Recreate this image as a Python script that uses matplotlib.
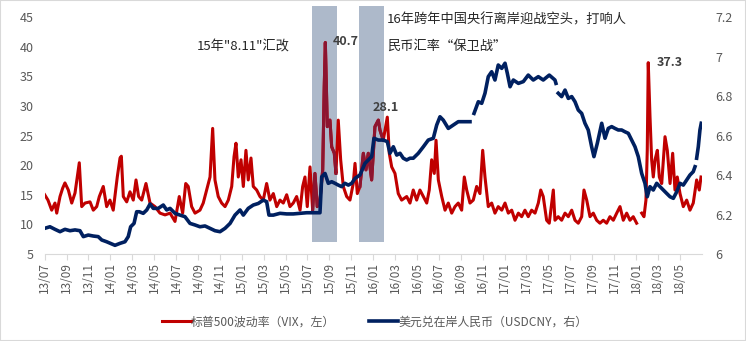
import matplotlib
matplotlib.use("Agg")
import matplotlib.pyplot as plt
from matplotlib.patches import Rectangle
import numpy as np

plt.rcParams['font.family'] = ['Noto Sans CJK SC', 'DejaVu Sans']

# x axis: months since 2013-07
tick_months = list(range(0, 60, 2))
tick_labels = ['13/07', '13/09', '13/11', '14/01', '14/03', '14/05', '14/07', '14/09',
               '14/11', '15/01', '15/03', '15/05', '15/07', '15/09', '15/11', '16/01',
               '16/03', '16/05', '16/07', '16/09', '16/11', '17/01', '17/03', '17/05',
               '17/07', '17/09', '17/11', '18/01', '18/03', '18/05']

# shaded periods (month offsets)
band_start = [24.41, 28.70]
band_end = [26.67, 31.00]

# S&P 500 VIX (left axis)
vix_month = [0.00, 0.30, 0.64, 0.94, 1.10, 1.40, 1.64, 1.85, 2.16, 2.47,
             2.77, 2.98, 3.16, 3.38, 3.68, 4.14, 4.44, 4.75, 4.99, 5.35,
             5.66, 5.96, 6.26, 6.63, 6.88, 7.00, 7.18, 7.49, 7.79, 8.09,
             8.34, 8.58, 8.86, 9.25, 9.62, 10.07, 10.53, 10.99, 11.45, 11.90,
             12.29, 12.60, 12.88, 13.11, 13.42, 13.73, 14.18, 14.48, 14.79, 15.10,
             15.34, 15.55, 15.85, 16.16, 16.47, 16.77, 17.08, 17.29, 17.47, 17.68,
             17.93, 18.14, 18.38, 18.59, 18.84, 19.05, 19.36, 19.66, 19.96, 20.27,
             20.57, 20.88, 21.19, 21.49, 21.79, 22.10, 22.40, 22.70, 23.01, 23.32,
             23.56, 23.77, 23.98, 24.23, 24.47, 24.68, 24.89, 25.14, 25.39, 25.53,
             25.63, 25.81, 26.05, 26.21, 26.45, 26.60, 26.81, 27.03, 27.27, 27.58,
             27.88, 28.18, 28.34, 28.55, 28.79, 29.10, 29.34, 29.55, 29.86, 30.16,
             30.47, 30.62, 30.92, 31.29, 31.47, 31.69, 31.99, 32.29, 32.60, 33.06,
             33.36, 33.66, 33.97, 34.27, 34.58, 34.89, 35.12, 35.34, 35.58, 35.74,
             35.95, 36.26, 36.56, 36.86, 37.17, 37.47, 37.77, 38.08, 38.32, 38.54,
             38.84, 39.14, 39.45, 39.75, 40.00, 40.21, 40.51, 40.82, 41.12, 41.42,
             41.74, 42.04, 42.34, 42.65, 42.95, 43.26, 43.56, 43.86, 44.16, 44.47,
             44.78, 45.08, 45.30, 45.53, 45.84, 46.08, 46.45, 46.60, 46.90, 47.21,
             47.52, 47.82, 48.13, 48.43, 48.73, 49.04, 49.25, 49.50, 49.80, 50.10,
             50.41, 50.71, 51.01, 51.32, 51.62, 51.93, 52.24, 52.54, 52.84, 53.15,
             53.45, 53.75, 54.06, 54.30, 54.52, 54.73, 54.91, 55.03, 55.12, 55.28,
             55.43, 55.58, 55.74, 55.95, 56.13, 56.35, 56.65, 56.86, 57.11, 57.35,
             57.56, 57.77, 58.02, 58.32, 58.63, 58.93, 59.23, 59.54, 59.78, 59.94]
vix_value = [15.0, 14.1, 12.4, 13.6, 11.9, 14.7, 16.1, 17.0, 15.8, 13.6,
             15.3, 18.0, 20.4, 13.0, 13.6, 13.8, 12.4, 13.0, 14.7, 16.4,
             13.0, 14.1, 12.4, 18.0, 21.2, 21.5, 14.7, 13.8, 15.5, 14.1,
             17.5, 14.7, 14.1, 16.9, 13.6, 13.0, 11.9, 11.6, 11.9, 10.5,
             14.7, 11.9, 16.9, 16.4, 13.0, 11.9, 12.4, 13.6, 15.8, 18.0,
             26.2, 17.5, 14.7, 13.6, 13.0, 14.1, 16.4, 21.4, 23.7, 18.0,
             20.9, 16.4, 22.5, 17.5, 21.2, 16.4, 15.8, 14.7, 14.1, 16.9,
             14.1, 15.2, 13.0, 14.1, 13.6, 15.0, 13.0, 13.6, 14.7, 12.4,
             16.4, 18.0, 13.0, 19.7, 12.4, 18.6, 13.0, 14.1, 19.2, 33.2,
             40.7, 26.5, 27.6, 23.1, 22.0, 18.6, 27.6, 20.9, 16.4, 14.7,
             14.1, 16.9, 20.3, 15.2, 16.4, 22.0, 19.2, 22.0, 17.5, 26.5,
             27.6, 25.9, 24.2, 28.1, 22.0, 19.7, 18.6, 15.2, 14.1, 14.7,
             13.6, 15.8, 14.1, 15.8, 14.7, 13.6, 15.8, 20.9, 18.6, 24.2,
             17.5, 14.7, 12.4, 13.6, 11.9, 13.0, 13.6, 12.4, 18.0, 15.8,
             13.6, 14.1, 16.4, 15.2, 22.5, 18.0, 13.0, 13.6, 11.9, 13.0,
             12.4, 13.6, 11.9, 12.4, 10.7, 11.9, 11.3, 12.4, 11.3, 12.4,
             11.9, 13.6, 15.8, 14.7, 10.7, 10.2, 15.8, 10.7, 11.3, 10.7,
             11.9, 11.3, 12.4, 10.7, 10.2, 11.3, 15.8, 14.1, 11.3, 11.9,
             10.7, 10.2, 10.7, 10.2, 11.3, 10.7, 11.9, 13.0, 10.7, 11.9,
             10.7, 11.3, 10.2, np.nan, 11.9, 11.3, 14.1, 22.5, 37.3, 28.2,
             20.9, 18.0, 20.9, 22.5, 18.0, 16.9, 24.8, 22.5, 16.9, 22.0,
             15.8, 18.0, 15.2, 13.0, 14.1, 12.4, 13.6, 17.5, 15.8, 18.0]

# USD/CNY onshore (right axis)
usd_month = [0.00, 0.48, 0.94, 1.40, 1.85, 2.31, 2.77, 3.22, 3.53, 3.98,
             4.44, 4.89, 5.21, 5.66, 6.12, 6.42, 6.88, 7.33, 7.63, 7.85,
             8.16, 8.40, 8.64, 9.00, 9.32, 9.62, 9.92, 10.37, 10.83, 11.14,
             11.45, 11.90, 12.36, 12.81, 13.27, 13.73, 14.18, 14.64, 15.10, 15.55,
             16.01, 16.47, 16.93, 17.38, 17.84, 18.14, 18.59, 19.05, 19.51, 19.96,
             20.27, 20.48, 20.88, 21.49, 22.10, 22.70, 23.32, 23.93, 25.14, 25.30,
             25.60, 25.90, 26.21, 26.51, 26.81, 27.12, 27.42, 27.73, 28.04, 28.34,
             28.79, 29.25, 29.55, 29.86, 30.07, 30.47, 30.92, 31.29, 31.53, 31.84,
             32.15, 32.45, 32.75, 33.06, 33.36, 33.66, 34.12, 34.58, 35.03, 35.49,
             35.80, 36.10, 36.40, 36.86, 37.32, 37.77, 38.23, 38.84, 39.00, 39.21,
             39.60, 39.91, 40.21, 40.51, 40.82, 41.12, 41.42, 41.74, 42.04, 42.25,
             42.50, 42.80, 43.26, 43.71, 44.16, 44.62, 45.08, 45.53, 46.08, 46.60,
             46.69, 46.80, 46.90, 47.21, 47.52, 47.82, 48.13, 48.43, 48.73, 49.04,
             49.34, 49.64, 49.95, 50.16, 50.47, 50.87, 51.17, 51.47, 51.78, 52.08,
             52.38, 52.69, 52.99, 53.30, 53.61, 53.91, 54.21, 54.52, 54.82, 55.03,
             55.28, 55.58, 55.89, 56.19, 56.49, 56.80, 57.11, 57.41, 57.72, 58.02,
             58.32, 58.63, 58.93, 59.23, 59.39, 59.45, 59.54, 59.69, 59.84, 59.96]
usd_value = [6.130, 6.138, 6.125, 6.113, 6.125, 6.118, 6.122, 6.118, 6.088, 6.096,
             6.091, 6.088, 6.071, 6.062, 6.051, 6.044, 6.054, 6.062, 6.088, 6.138,
             6.155, 6.214, 6.214, 6.206, 6.223, 6.253, 6.231, 6.231, 6.248, 6.223,
             6.231, 6.206, 6.197, 6.189, 6.155, 6.147, 6.138, 6.142, 6.130, 6.118,
             6.113, 6.130, 6.155, 6.197, 6.223, 6.197, 6.231, 6.248, 6.256, 6.273,
             6.265, 6.197, 6.197, 6.206, 6.203, 6.203, 6.206, 6.209, 6.209, 6.391,
             6.408, 6.358, 6.366, 6.358, 6.349, 6.341, 6.358, 6.349, 6.358, 6.383,
             6.400, 6.459, 6.476, 6.493, 6.586, 6.577, 6.577, 6.569, 6.510, 6.543,
             6.501, 6.510, 6.485, 6.476, 6.485, 6.485, 6.510, 6.543, 6.577, 6.586,
             6.653, 6.695, 6.678, 6.636, 6.653, 6.670, 6.670, 6.670, np.nan, 6.712,
             6.771, 6.763, 6.814, 6.898, 6.923, 6.881, 6.957, 6.940, 6.966, 6.915,
             6.847, 6.881, 6.864, 6.873, 6.906, 6.881, 6.898, 6.881, 6.906, 6.881,
             6.864, np.nan, 6.814, 6.797, 6.830, 6.788, 6.797, 6.771, 6.729, 6.712,
             6.662, 6.628, 6.543, 6.493, 6.561, 6.662, 6.586, 6.636, 6.645, 6.636,
             6.628, 6.628, 6.619, 6.611, 6.577, 6.543, 6.493, 6.408, 6.358, 6.290,
             6.341, 6.324, 6.358, 6.341, 6.324, 6.307, 6.290, 6.282, 6.315, 6.358,
             6.349, 6.375, 6.400, 6.417, 6.442, np.nan, 6.485, 6.543, 6.628, 6.662]

RED = '#C00000'
MAROON = '#8C1530'
NAVY = '#002060'
GRID = '#D9D9D9'
LABEL = '#595959'

fig = plt.figure(figsize=(7.46, 3.41), dpi=100)
ax = fig.add_axes([0.0599, 0.2551, 0.8807, 0.695])

# shaded windows
for a, b in zip(band_start, band_end):
    ax.add_patch(Rectangle((a, 7), b - a, 39.9, facecolor='#ADB9CA',
                           edgecolor='none', zorder=1, clip_on=False))

vm = np.array(vix_month)
vv = np.array(vix_value)
line_vix, = ax.plot(vm, vv, color=RED, lw=2.2, zorder=2)
inside = np.zeros(len(vm), dtype=bool)
for a, b in zip(band_start, band_end):
    inside |= (vm >= a) & (vm <= b)
ax.plot(vm, np.where(inside, vv, np.nan), color=MAROON, lw=2.2, zorder=3)

ax.set_xlim(0, 60)
ax.set_ylim(5, 45)
ax.set_yticks(range(5, 50, 5))
ax.set_xticks(tick_months, tick_labels, rotation=90)
ax.tick_params(axis='x', length=4, color=GRID, labelcolor=LABEL, labelsize=8.5, pad=2)
ax.tick_params(axis='y', length=0, labelcolor=LABEL, labelsize=9, pad=8)
for s in ['top', 'right', 'left']:
    ax.spines[s].set_visible(False)
ax.spines['bottom'].set_color(GRID)

ax2 = ax.twinx()
line_usd, = ax2.plot(usd_month, usd_value, color=NAVY, lw=2.6, zorder=4)
ax2.set_ylim(6, 7.2)
ax2.set_yticks([6, 6.2, 6.4, 6.6, 6.8, 7, 7.2], ['6', '6.2', '6.4', '6.6', '6.8', '7', '7.2'])
ax2.tick_params(axis='y', length=0, labelcolor=LABEL, labelsize=9, pad=10)
for s in ax2.spines.values():
    s.set_visible(False)

# annotations
ax.text(18.1, 40.0, '15年"8.11"汇改', fontsize=9.5, color='#262626', ha='center', va='center')
ax.text(31.25, 44.5, '16年跨年中国央行离岸迎战空头，打响人', fontsize=9.5, color='#262626',
        ha='left', va='center')
ax.text(31.25, 40.1, '民币汇率“保卫战”', fontsize=9.5, color='#262626', ha='left', va='center')
ax.text(27.5, 40.8, '40.7', fontsize=9, fontweight='bold', color='#404040', ha='center', va='center')
ax.text(31.1, 29.8, '28.1', fontsize=9, fontweight='bold', color='#404040', ha='center', va='center')
ax.text(57.1, 37.4, '37.3', fontsize=9, fontweight='bold', color='#404040', ha='center', va='center')

leg = fig.legend([line_vix, line_usd],
                 ['标普500波动率（VIX，左）', '美元兑在岸人民币（USDCNY，右）'],
                 loc='center', bbox_to_anchor=(0.502, 0.056), ncol=2, frameon=False,
                 handlelength=2.45, columnspacing=2.8, handletextpad=0.0, fontsize=8.6)
for t in leg.get_texts():
    t.set_color(LABEL)

fig.patches.append(Rectangle((0, 0), 1, 1, transform=fig.transFigure, fill=False,
                             edgecolor=GRID, lw=1.5))

fig.savefig('out.png', dpi=100)
